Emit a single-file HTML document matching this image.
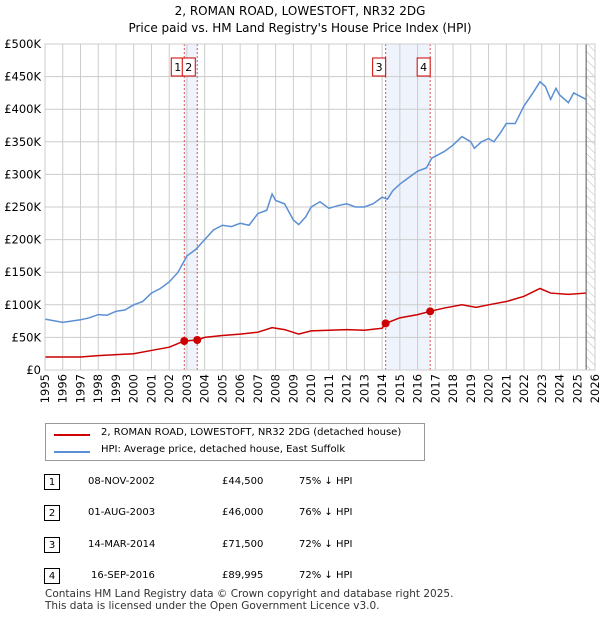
<!DOCTYPE html>
<html><head><meta charset="utf-8"><style>
body{margin:0;background:#fff;font-family:"DejaVu Sans","Liberation Sans",sans-serif;color:#000}
#wrap{position:relative;width:600px;height:620px;overflow:hidden}
.t{position:absolute;font-size:11px;white-space:nowrap}
</style></head><body><div id="wrap">
<div class="t" style="left:0;width:600px;text-align:center;top:4px;font-size:12px">2, ROMAN ROAD, LOWESTOFT, NR32 2DG</div>
<div class="t" style="left:0;width:600px;text-align:center;top:21px;font-size:12px">Price paid vs. HM Land Registry's House Price Index (HPI)</div>
<svg id="svg" width="600" height="420" style="position:absolute;left:0;top:0"></svg>
<div style="position:absolute;left:45px;top:423px;width:380px;height:38px;border:1px solid #999;box-sizing:border-box">
<div style="position:absolute;left:8px;top:10px;width:36px;height:2px;background:#cc0000"></div>
<div class="t" style="left:55px;top:3px;font-size:10px">2, ROMAN ROAD, LOWESTOFT, NR32 2DG (detached house)</div>
<div style="position:absolute;left:8px;top:27px;width:36px;height:2px;background:#5b8fd4"></div>
<div class="t" style="left:55px;top:20px;font-size:10px">HPI: Average price, detached house, East Suffolk</div>
</div>
<div id="tbl"></div>
<div class="t" style="left:45px;top:588px;font-size:10.5px;color:#333">Contains HM Land Registry data © Crown copyright and database right 2025.</div>
<div class="t" style="left:45px;top:600px;font-size:10.5px;color:#333">This data is licensed under the Open Government Licence v3.0.</div>
<script>
const hpiYears=[1995,1996,1997,1997.5,1998,1998.5,1999,1999.5,2000,2000.5,2001,2001.5,2002,2002.5,2003,2003.5,2004,2004.5,2005,2005.5,2006,2006.5,2007,2007.5,2007.8,2008,2008.5,2009,2009.3,2009.7,2010,2010.5,2011,2011.5,2012,2012.5,2013,2013.5,2014,2014.3,2014.6,2015,2015.5,2016,2016.5,2016.8,2017.5,2018,2018.5,2019,2019.2,2019.6,2020,2020.3,2020.7,2021,2021.5,2022,2022.5,2022.9,2023.2,2023.5,2023.8,2024,2024.5,2024.8,2025.5];
const hpiValues=[78,73,77,80,85,84,90,92,100,105,118,125,135,150,175,185,200,215,222,220,225,222,240,245,270,260,255,230,223,235,250,258,248,252,255,250,250,255,265,262,275,285,295,305,310,325,335,345,358,350,340,350,355,350,365,378,378,405,425,442,435,415,432,422,410,425,415];
const ppYears=[1995,1997,1998,2000,2001,2002,2002.85,2003.58,2004,2005,2006,2007,2007.8,2008.5,2009.3,2010,2011,2012,2013,2014,2014.2,2015,2016,2016.71,2017.5,2018.5,2019.3,2020,2021,2022,2022.9,2023.5,2024.5,2025.5];
const ppValues=[20,20,22,25,30,35,44.5,46,50,53,55,58,65,62,55,60,61,62,61,64,71.5,80,85,90,95,100,96,100,105,113,125,118,116,118];
const saleLabels=["1","2","3","4"];
const saleYears=[2002.85,2003.58,2014.2,2016.71];
const saleValues=[44.5,46,71.5,89.995];
const saleDates=["08-NOV-2002","01-AUG-2003","14-MAR-2014","16-SEP-2016"];
const salePrices=["£44,500","£46,000","£71,500","£89,995"];
const saleHpi=["75% ↓ HPI","76% ↓ HPI","72% ↓ HPI","72% ↓ HPI"];
const yTicks=[0,50,100,150,200,250,300,350,400,450,500];
const yTickLabels=["£0","£50K","£100K","£150K","£200K","£250K","£300K","£350K","£400K","£450K","£500K"];
const X0=45,X1=595,Y0=370,Y1=44;
const FF='DejaVu Sans, Liberation Sans, sans-serif';
const x=y=>X0+(y-1995)/(2026-1995)*(X1-X0);
const yv=v=>Y0-v/500*(Y0-Y1);
const svg=document.getElementById('svg');const NS='http://www.w3.org/2000/svg';
function mk(t,a,p){const e=document.createElementNS(NS,t);for(const k in a)e.setAttribute(k,a[k]);(p||svg).appendChild(e);return e;}
for(const [a,b] of [[0,1],[2,3]]){const r=mk('rect',{x:x(saleYears[a]),y:Y1,width:x(saleYears[b])-x(saleYears[a]),height:Y0-Y1,fill:'#eef3fc'});

}
const def=mk('defs',{});const pat=mk('pattern',{id:'h',width:6,height:6,patternUnits:'userSpaceOnUse',patternTransform:'rotate(-45)'},def);mk('line',{x1:0,y1:0,x2:0,y2:6,stroke:'#bbb','stroke-width':1},pat);
const hr=mk('rect',{x:x(2025.5),y:Y1,width:X1-x(2025.5),height:Y0-Y1,fill:'url(#h)'});


for(let yr=1995;yr<=2026;yr++){mk('line',{x1:x(yr),x2:x(yr),y1:Y1,y2:Y0,stroke:'#ccc'});
const t=mk('text',{x:0,y:0,transform:`translate(${x(yr)+4},${Y0+4}) rotate(-90)`,'text-anchor':'end','font-size':11.5,'font-family':FF});t.textContent=yr;

}
yTicks.forEach((v,i)=>{mk('line',{x1:X0,x2:X1,y1:yv(v),y2:yv(v),stroke:'#ccc'});
const t=mk('text',{x:X0-4,y:yv(v)+4,'text-anchor':'end','font-size':11.5,'font-family':FF});t.textContent=yTickLabels[i];

});
mk('line',{x1:x(2025.5),x2:x(2025.5),y1:Y1,y2:Y0,stroke:'#555'});
saleYears.forEach(s=>mk('line',{x1:x(s),x2:x(s),y1:Y1,y2:Y0,stroke:'#e05050','stroke-dasharray':'2,2'}));
const hp=mk('polyline',{points:hpiYears.map((a,i)=>x(a)+','+yv(hpiValues[i])).join(' '),fill:'none',stroke:'#5b8fd4','stroke-width':1.5});


const pp=mk('polyline',{points:ppYears.map((a,i)=>x(a)+','+yv(ppValues[i])).join(' '),fill:'none',stroke:'#cc0000','stroke-width':1.5});


saleYears.forEach((s,i)=>{const c=mk('circle',{cx:x(s),cy:yv(saleValues[i]),r:4,fill:'#cc0000'});


const g=mk('g',{});


const bx=i==1?x(saleYears[0])-2:x(s)-13;
mk('rect',{x:bx,y:58,width:13,height:18,fill:'#fff',stroke:'#cc0000'},g);
const t=mk('text',{x:bx+6.5,y:71,'text-anchor':'middle','font-size':11,'font-family':FF},g);t.textContent=saleLabels[i];});
mk('rect',{x:X0,y:Y1,width:X1-X0,height:Y0-Y1,fill:'none',stroke:'#ccc'});
const tb=document.getElementById('tbl');const ys=[483,514,546,577];
saleLabels.forEach((l,i)=>{const r=document.createElement('div');


r.style.cssText=`position:absolute;left:0;top:${ys[i]-9}px;width:600px;height:18px;font-size:10px`;
r.innerHTML=`<div style="position:absolute;left:44px;top:0;width:16px;height:16px;border:1px solid #000;box-sizing:border-box;text-align:center;line-height:15px">${l}</div><div class="t" style="left:${i==3?91:88}px;top:2px;font-size:10px">${saleDates[i]}</div><div class="t" style="left:222px;top:2px;font-size:10px">${salePrices[i]}</div><div class="t" style="left:299px;top:2px;font-size:10px">${saleHpi[i]}</div>`;
tb.appendChild(r);});
</script></div></body></html>
